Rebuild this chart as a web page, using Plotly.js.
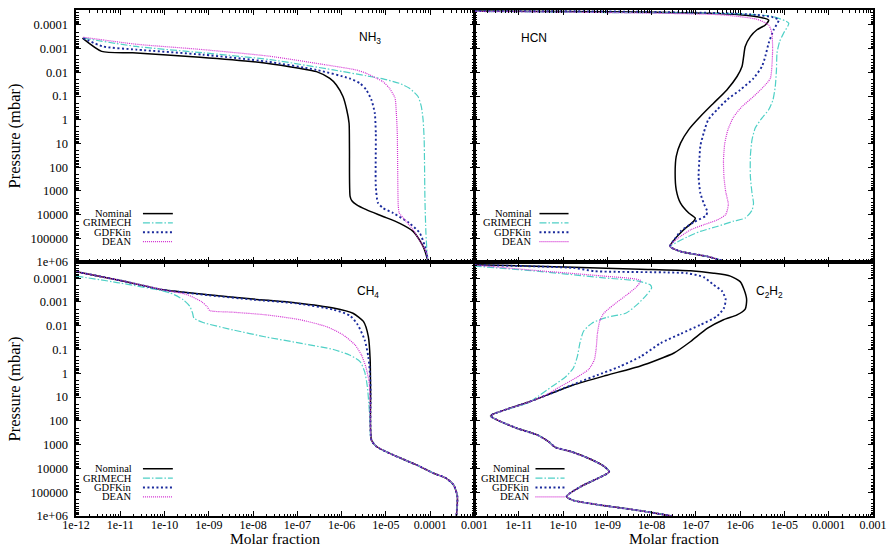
<!DOCTYPE html>
<html>
<head>
<meta charset="utf-8">
<script src="https://cdn.plot.ly/plotly-3.0.1.min.js"></script>
<style>html,body{margin:0;padding:0;background:#fff;}#chart{width:892px;height:549px;}</style>
</head>
<body>
<div id="chart"></div>
<script>
// ---------- tick labels ----------
var xTickVals = [1e-12,1e-11,1e-10,1e-9,1e-8,1e-7,1e-6,1e-5,1e-4,1e-3];
var xTickText = ['1e-12','1e-11','1e-10','1e-09','1e-08','1e-07','1e-06','1e-05','0.0001','0.001'];
var yTickVals = [1e-4,1e-3,1e-2,1e-1,1,10,100,1000,1e4,1e5,1e6];
var yTickText = ['0.0001','0.001','0.01','0.1','1','10','100','1000','10000','100000','1e+06'];

var seriesNames = ['Nominal','GRIMECH','GDFKin','DEAN'];
var speciesNames = ['NH<sub>3</sub>','HCN','CH<sub>4</sub>','C<sub>2</sub>H<sub>2</sub>'];
var xTitle = 'Molar fraction';
var yTitle = 'Pressure (mbar)';

// ---------- NH3 ----------
var nh3_nom_x = [1.4e-12,3.8e-12,1.9e-11,6.3e-10,2.0e-8,1.1e-7,2.7e-7,5.4e-7,7.6e-7,1.07e-6,1.3e-6,1.47e-6,1.5e-6,1.55e-6,1.7e-6,2.15e-6,3.6e-6,8.6e-6,2.0e-5,4.1e-5,6.3e-5,7.5e-5,9.0e-5];
var nh3_nom_p = [3.6e-4,1.3e-3,1.5e-3,2.3e-3,4.1e-3,6.7e-3,9.3e-3,0.018,0.034,0.105,0.38,1.4,18,1700,2600,3800,6200,1.2e4,2.3e4,5.1e4,1.6e5,3.2e5,1e6];
var nh3_gri_x = [1.46e-12,2.3e-11,7.4e-10,2.4e-8,6.5e-7,3.6e-6,8.6e-6,2.0e-5,3.4e-5,5.3e-5,6.3e-5,6.9e-5,7.3e-5,7.6e-5,8.0e-5,8.5e-5,9.0e-5];
var nh3_gri_p = [3.6e-4,8.1e-4,1.5e-3,2.9e-3,7.9e-3,0.014,0.019,0.029,0.047,0.105,0.28,1,7,2300,6e4,4.2e5,1e6];
var nh3_gdf_x = [1.46e-12,4.1e-12,2.3e-11,7.4e-10,2.0e-8,2.7e-7,1.5e-6,2.6e-6,3.6e-6,4.7e-6,5.6e-6,5.9e-6,5.9e-6,6.6e-6,8.6e-6,1.45e-5,3.4e-5,5.8e-5,7.6e-5,9.0e-5];
var nh3_gdf_p = [3.6e-4,8.1e-4,1.1e-3,1.8e-3,3.5e-3,7.9e-3,0.018,0.029,0.055,0.145,0.53,3.6,650,3200,5300,8600,2.3e4,6e4,2.2e5,1e6];
var nh3_dean_x = [1.46e-12,2.3e-11,7.4e-10,2.4e-8,4.6e-7,2.1e-6,3.6e-6,6.2e-6,8.6e-6,1.2e-5,1.6e-5,1.7e-5,1.8e-5,1.9e-5,2.0e-5,2.7e-5,4.1e-5,6.3e-5,8.3e-5,9.0e-5];
var nh3_dean_p = [3.3e-4,6.5e-4,1.1e-3,2.1e-3,4.9e-3,7.9e-3,0.011,0.018,0.025,0.047,0.12,0.38,3.6,4500,8600,1.7e4,4.4e4,1.6e5,4.2e5,1e6];

// ---------- HCN ----------
var hcn_nom_x = [1e-12,9.8e-10,1.8e-7,1.0e-6,2.4e-6,4.4e-6,3.7e-6,2.4e-6,1.7e-6,1.3e-6,1.2e-6,1.1e-6,8.5e-7,5.0e-7,2.5e-7,1.26e-7,6.9e-8,4.5e-8,3.6e-8,3.4e-8,3.6e-8,4.5e-8,6.9e-8,9.7e-8,8.9e-8,5.3e-8,3.2e-8,2.6e-8,4.5e-8,1.8e-7,5.0e-7];
var hcn_nom_p = [2.6e-5,2.8e-5,3.2e-5,3.7e-5,4.5e-5,6.2e-5,1e-4,1.6e-4,3.1e-4,8.1e-4,2.1e-3,5.7e-3,0.015,0.055,0.2,0.73,2.6,9.7,35,178,900,3300,8600,1.4e4,1.9e4,4.4e4,1.2e5,2.2e5,3.6e5,5.8e5,1e6];
var hcn_gri_x = [1e-12,9.8e-10,1.0e-6,5.7e-6,1.25e-5,9.6e-6,7.8e-6,6.8e-6,6.6e-6,6.2e-6,5.5e-6,4.4e-6,3.1e-6,2.2e-6,1.85e-6,1.7e-6,1.7e-6,1.85e-6,2.0e-6,1.85e-6,1.3e-6,7.1e-7,3.0e-7,1.26e-7,6.3e-8,3.8e-8,2.6e-8,4.5e-8,1.8e-7,5.0e-7];
var hcn_gri_p = [2.7e-5,3.0e-5,3.4e-5,4.5e-5,8.5e-5,2.2e-4,5e-4,1.5e-3,7.9e-3,0.04,0.145,0.38,0.85,2.2,7,35,245,1230,3300,6600,1.4e4,1.9e4,3.2e4,5.1e4,8.9e4,1.45e5,2.2e5,3.6e5,5.8e5,1e6];
var hcn_gdf_x = [1e-12,9.8e-10,4.2e-7,2.4e-6,5.7e-6,7.4e-6,5.7e-6,4.4e-6,3.7e-6,3.1e-6,2.0e-6,1.0e-6,5.0e-7,3.0e-7,1.9e-7,1.5e-7,1.26e-7,1.2e-7,1.15e-7,1.26e-7,1.5e-7,1.8e-7,1.7e-7,8.9e-8,4.5e-8,3.2e-8,2.6e-8,4.5e-8,1.8e-7,5.0e-7];
var hcn_gdf_p = [2.6e-5,2.7e-5,3.2e-5,3.8e-5,4.8e-5,6.2e-5,1.6e-4,5.9e-4,2.1e-3,5.7e-3,0.018,0.055,0.145,0.38,1.0,3.6,13,49,245,1230,3300,7400,1.1e4,2.1e4,5.1e4,1.2e5,2.2e5,3.6e5,5.8e5,1e6];
var hcn_dean_x = [1e-12,9.8e-10,4.2e-7,2.4e-6,4.4e-6,5.2e-6,5.4e-6,5.2e-6,4.8e-6,3.4e-6,2.0e-6,1.1e-6,7.2e-7,5.3e-7,4.5e-7,4.2e-7,4.3e-7,4.7e-7,5.4e-7,4.7e-7,3.0e-7,1.5e-7,7.6e-8,4.5e-8,2.9e-8,2.6e-8,4.5e-8,1.8e-7,5.0e-7];
var hcn_dean_p = [2.7e-5,3.0e-5,3.8e-5,5.8e-5,1e-4,2.2e-4,1.1e-3,5.7e-3,0.018,0.04,0.105,0.28,0.73,2.6,9.7,49,245,1050,3800,1e4,1.7e4,2.7e4,4.4e4,8.3e4,1.6e5,2.2e5,3.6e5,5.8e5,1e6];

// ---------- CH4 ----------
var ch4_nom_x = [1.03e-12,1e-11,9.3e-11,9.8e-10,1.0e-8,9.6e-8,6.5e-7,1.8e-6,3.1e-6,4.0e-6,4.4e-6,4.5e-6,4.7e-6,6.1e-6,1.45e-5,4.9e-5,1.2e-4,2.3e-4,3.4e-4,4.1e-4,3.9e-4];
var ch4_nom_p = [5.4e-5,1.25e-4,3.1e-4,5e-4,7.6e-4,1.1e-3,1.8e-3,3e-3,6.6e-3,0.028,0.27,7,640,1200,2700,7100,1.6e4,2.6e4,5e4,1.5e5,1e6];
var ch4_gri_x = [1e-12,1e-11,1.3e-10,2.6e-10,3.7e-10,4.3e-10,4.6e-10,7.4e-10,3.5e-9,2.0e-8,1.15e-7,6.5e-7,1.5e-6,2.6e-6,3.3e-6,3.8e-6,4.1e-6,4.4e-6,4.6e-6,6.1e-6,1.45e-5,4.9e-5,1.2e-4,2.3e-4,3.4e-4,4.1e-4,3.9e-4];
var ch4_gri_p = [8.2e-5,1.6e-4,4.1e-4,7.9e-4,1.5e-3,3e-3,4.8e-3,7.3e-3,0.015,0.03,0.054,0.1,0.17,0.32,0.85,3.6,18,126,640,1200,2700,7100,1.6e4,2.6e4,5e4,1.5e5,1e6];
var ch4_gdf_x = [1.03e-12,1e-11,9.3e-11,9.8e-10,1.0e-8,9.6e-8,6.5e-7,1.55e-6,2.3e-6,3.3e-6,4.0e-6,4.4e-6,4.5e-6,4.7e-6,6.1e-6,1.45e-5,4.9e-5,1.2e-4,2.3e-4,3.4e-4,4.1e-4,3.9e-4];
var ch4_gdf_p = [5.4e-5,1.25e-4,3.1e-4,5.2e-4,8.0e-4,1.15e-3,2.1e-3,3.8e-3,9.1e-3,0.039,0.2,1.4,7,640,1200,2700,7100,1.6e4,2.6e4,5e4,1.5e5,1e6];
var ch4_dean_x = [1.03e-12,1e-11,9.3e-11,3.2e-10,6.9e-10,9.2e-10,1.05e-9,3.5e-9,2.0e-8,1.15e-7,4.6e-7,1.07e-6,2.0e-6,2.8e-6,3.5e-6,4.1e-6,4.4e-6,4.7e-6,6.1e-6,1.45e-5,4.9e-5,1.2e-4,2.3e-4,3.4e-4,4.1e-4,3.9e-4];
var ch4_dean_p = [5.4e-5,1.25e-4,3.1e-4,4.9e-4,9.9e-4,1.6e-3,2.3e-3,2.7e-3,3.5e-3,5.6e-3,0.011,0.024,0.064,0.17,0.53,1.9,13,640,1200,2700,7100,1.6e4,2.6e4,5e4,1.5e5,1e6];

// ---------- C2H2 ----------
var c2h2_nom_x = [1e-12,1.7e-10,5.6e-9,7.6e-8,2.5e-7,6.0e-7,1.0e-6,1.23e-6,1.4e-6,1.3e-6,8.5e-7,4.2e-7,1.8e-7,7.6e-8,3.2e-8,5.6e-9,9.8e-10,1.7e-10,4.4e-11,1.55e-11,5.5e-12,2.7e-12,2.3e-12,3.0e-12,9.1e-12,2.6e-11,4.7e-11,6.7e-11,1.5e-10,4.2e-10,8.3e-10,1.1e-9,7.0e-10,2.5e-10,1.2e-10,1.7e-10,9.8e-10,5.6e-9,2.9e-8];
var c2h2_nom_p = [2.7e-5,3.5e-5,4.2e-5,4.9e-5,6.2e-5,8.2e-5,1.4e-4,3.1e-4,8.1e-4,2e-3,3.5e-3,5.6e-3,0.013,0.046,0.14,0.49,1.2,3.1,8.1,17,32,51,62,85,205,390,740,1300,1950,4100,8000,1.4e4,2.3e4,5.8e4,1.5e5,2.2e5,3.8e5,6e5,1e6];
var c2h2_gri_x = [1e-12,2.6e-11,8.3e-10,4.7e-9,9.3e-9,1.0e-8,7.8e-9,4.7e-9,2.6e-9,9.8e-10,4.5e-10,2.9e-10,2.4e-10,2.1e-10,1.7e-10,1.1e-10,5.6e-11,2.8e-11,1.7e-11,5.5e-12,2.7e-12,2.3e-12,3.0e-12,9.1e-12,2.6e-11,4.7e-11,6.7e-11,1.5e-10,4.2e-10,8.3e-10,1.1e-9,7.0e-10,2.5e-10,1.2e-10,1.7e-10,9.8e-10,5.6e-9,2.9e-8];
var c2h2_gri_p = [3.1e-5,5.1e-5,9.7e-5,1.3e-4,1.9e-4,2.6e-4,4.9e-4,1.3e-3,3e-3,4.4e-3,7.8e-3,0.017,0.054,0.2,0.61,1.5,3.6,9,17,32,51,62,85,205,390,740,1300,1950,4100,8000,1.4e4,2.3e4,5.8e4,1.5e5,2.2e5,3.8e5,6e5,1e6];
var c2h2_gdf_x = [1e-12,1.7e-10,5.3e-10,6.3e-8,1.5e-7,2.5e-7,3.9e-7,4.7e-7,4.3e-7,3.0e-7,1.26e-7,4.5e-8,1.6e-8,5.6e-9,1.9e-9,5.9e-10,2.5e-10,4.4e-11,1.55e-11,5.5e-12,2.7e-12,2.3e-12,3.0e-12,9.1e-12,2.6e-11,4.7e-11,6.7e-11,1.5e-10,4.2e-10,8.3e-10,1.1e-9,7.0e-10,2.5e-10,1.2e-10,1.7e-10,9.8e-10,5.6e-9,2.9e-8];
var c2h2_gdf_p = [2.8e-5,3.7e-5,5.1e-5,6.2e-5,9.1e-5,1.9e-4,3.5e-4,7.9e-4,1.8e-3,4e-3,9.2e-3,0.022,0.054,0.2,0.52,1.2,2.2,8.1,17,32,51,62,85,205,390,740,1300,1950,4100,8000,1.4e4,2.3e4,5.8e4,1.5e5,2.2e5,3.8e5,6e5,1e6];
var c2h2_dean_x = [1e-12,2.6e-11,8.3e-10,5.6e-9,4.7e-9,2.8e-9,1.4e-9,8.3e-10,6.7e-10,6.0e-10,5.6e-10,5.1e-10,3.8e-10,1.9e-10,8.7e-11,3.7e-11,1.55e-11,5.5e-12,2.7e-12,2.3e-12,3.0e-12,9.1e-12,2.6e-11,4.7e-11,6.7e-11,1.5e-10,4.2e-10,8.3e-10,1.1e-9,7.0e-10,2.5e-10,1.2e-10,1.7e-10,9.8e-10,5.6e-9,2.9e-8];
var c2h2_dean_p = [2.8e-5,4.8e-5,8.2e-5,1.25e-4,2.2e-4,4.9e-4,1.3e-3,3e-3,6.6e-3,0.02,0.089,0.27,0.68,1.6,3.6,9,17,32,51,62,85,205,390,740,1300,1950,4100,8000,1.4e4,2.3e4,5.8e4,1.5e5,2.2e5,3.8e5,6e5,1e6];

// ---------- styles ----------
var colors = ['#000000','#4fd0c6','#1a2a9c','#d22fd2'];
var dashes = ['solid','7px,2px,1.5px,2px','2px,2.5px','1px,1px'];
var widths = [1.5,1.2,1.9,1.2];
var serif = 'Liberation Serif';
var sans = 'Liberation Sans';

var panels = [
  {xa:'x',  ya:'y',  data:[[nh3_nom_x,nh3_nom_p],[nh3_gri_x,nh3_gri_p],[nh3_gdf_x,nh3_gdf_p],[nh3_dean_x,nh3_dean_p]]},
  {xa:'x2', ya:'y2', data:[[hcn_nom_x,hcn_nom_p],[hcn_gri_x,hcn_gri_p],[hcn_gdf_x,hcn_gdf_p],[hcn_dean_x,hcn_dean_p]]},
  {xa:'x3', ya:'y3', data:[[ch4_nom_x,ch4_nom_p],[ch4_gri_x,ch4_gri_p],[ch4_gdf_x,ch4_gdf_p],[ch4_dean_x,ch4_dean_p]]},
  {xa:'x4', ya:'y4', data:[[c2h2_nom_x,c2h2_nom_p],[c2h2_gri_x,c2h2_gri_p],[c2h2_gdf_x,c2h2_gdf_p],[c2h2_dean_x,c2h2_dean_p]]}
];

var traces = [];
panels.forEach(function(pn){
  [0,1,2,3].forEach(function(k){
    traces.push({
      x: pn.data[k][0], y: pn.data[k][1], xaxis: pn.xa, yaxis: pn.ya,
      type:'scatter', mode:'lines', name: seriesNames[k], showlegend:false,
      line:{color:colors[k], width:widths[k], dash:dashes[k], shape:'spline', smoothing:0.6},
      hoverinfo:'skip'
    });
  });
});

// minor tick positions 2..9 per decade
var minorVals = [];
for (var d = -13; d <= 6; d++) { for (var m = 2; m <= 9; m++) { minorVals.push(m * Math.pow(10, d)); } }

function xAxis(domain, anchor, showLabels, skipFirst) {
  var txt = xTickText.slice();
  if (skipFirst) txt[0] = ' ';
  return {
    domain: domain, anchor: anchor, type:'log', range:[-12,-3],
    tickmode:'array', tickvals:xTickVals, ticktext:txt, showticklabels: showLabels,
    ticks:'inside', ticklen:5, tickwidth:1, tickcolor:'#000',
    minor:{tickmode:'array', tickvals:minorVals, ticks:'inside', ticklen:2.5, tickwidth:1, tickcolor:'#000', showgrid:false},
    showline:true, linecolor:'#000', linewidth:1.6, mirror:'allticks',
    showgrid:false, zeroline:false,
    tickfont:{family:serif, size:12, color:'#000'}, ticklabelstandoff:-3
  };
}
function yAxis(domain, anchor, showLabels, range, title) {
  var a = {
    domain: domain, anchor: anchor, type:'log', range:range,
    tickmode:'array', tickvals:yTickVals, ticktext:yTickText, showticklabels: showLabels,
    ticks:'inside', ticklen:5, tickwidth:1, tickcolor:'#000',
    minor:{tickmode:'array', tickvals:minorVals, ticks:'inside', ticklen:2.5, tickwidth:1, tickcolor:'#000', showgrid:false},
    showline:true, linecolor:'#000', linewidth:1.6, mirror:'allticks',
    showgrid:false, zeroline:false,
    tickfont:{family:serif, size:12.5, color:'#000'}, ticklabelstandoff:4
  };
  if (title) a.title = {text:title, font:{family:serif, size:16.5, color:'#000'}, standoff:5};
  return a;
}

var yTop = [0.502, 1], yBot = [0, 0.502];
var layout = {
  width:892, height:549,
  font:{family:serif, size:12, color:'#000'},
  margin:{l:76, r:19, t:10, b:33, pad:0},
  paper_bgcolor:'#fff', plot_bgcolor:'#fff',
  showlegend:false,
  xaxis:  xAxis([0,0.5], 'y',  false, false),
  yaxis:  yAxis(yTop, 'x',  true,  [6,-4.63], yTitle),
  xaxis2: xAxis([0.5,1], 'y2', false, false),
  yaxis2: yAxis(yTop, 'x2', false, [6,-4.63], null),
  xaxis3: xAxis([0,0.5], 'y3', true,  false),
  yaxis3: yAxis(yBot, 'x3', true,  [6,-4.68], yTitle),
  xaxis4: xAxis([0.5,1], 'y4', true,  true),
  yaxis4: yAxis(yBot, 'x4', false, [6,-4.68], null),
  annotations:[], shapes:[]
};

// x-axis titles (below bottom panels)
['x3','x4'].forEach(function(ax){
  layout.annotations.push({
    xref: ax + ' domain', yref:'paper', x:0.5, y:-0.064, text:xTitle, showarrow:false,
    xanchor:'center', yanchor:'bottom', borderpad:0,
    font:{family:serif, size:15.5, color:'#000'}
  });
});

var speciesPos = [[0.738,0.89],[0.15,0.89],[0.733,0.88],[0.74,0.88]];
var axPairs = [['x','y'],['x2','y2'],['x3','y3'],['x4','y4']];
for (var i = 0; i < 4; i++) {
  layout.annotations.push({
    xref: axPairs[i][0] + ' domain', yref: axPairs[i][1] + ' domain',
    x: speciesPos[i][0], y: speciesPos[i][1], text: speciesNames[i], showarrow:false,
    xanchor:'center', yanchor:'middle', font:{family:sans, size:12, color:'#000'}
  });
}

// legends: text right-aligned, sample line to the right
var legTextX = [0.143, 0.146, 0.143, 0.141];
var legLineX = [[0.168,0.243],[0.163,0.236],[0.168,0.243],[0.153,0.226]];
var legRowsY = [[0.192,0.155,0.118,0.081],[0.192,0.155,0.118,0.081],[0.186,0.149,0.112,0.075],[0.186,0.149,0.112,0.075]];
for (var i = 0; i < 4; i++) {
  for (var k = 0; k < 4; k++) {
    layout.annotations.push({
      xref: axPairs[i][0] + ' domain', yref: axPairs[i][1] + ' domain',
      x: legTextX[i], y: legRowsY[i][k], text: seriesNames[k], showarrow:false,
      xanchor:'right', yanchor:'middle', borderpad:0,
      font:{family:serif, size:10.5, color:'#000'}
    });
    layout.shapes.push({
      type:'line', xref: axPairs[i][0] + ' domain', yref: axPairs[i][1] + ' domain',
      x0: legLineX[i][0], x1: legLineX[i][1], y0: legRowsY[i][k], y1: legRowsY[i][k],
      line:{color:colors[k], width:widths[k], dash:dashes[k]}
    });
  }
}

Plotly.newPlot('chart', traces, layout, {displayModeBar:false, staticPlot:true});
</script>
</body>
</html>
